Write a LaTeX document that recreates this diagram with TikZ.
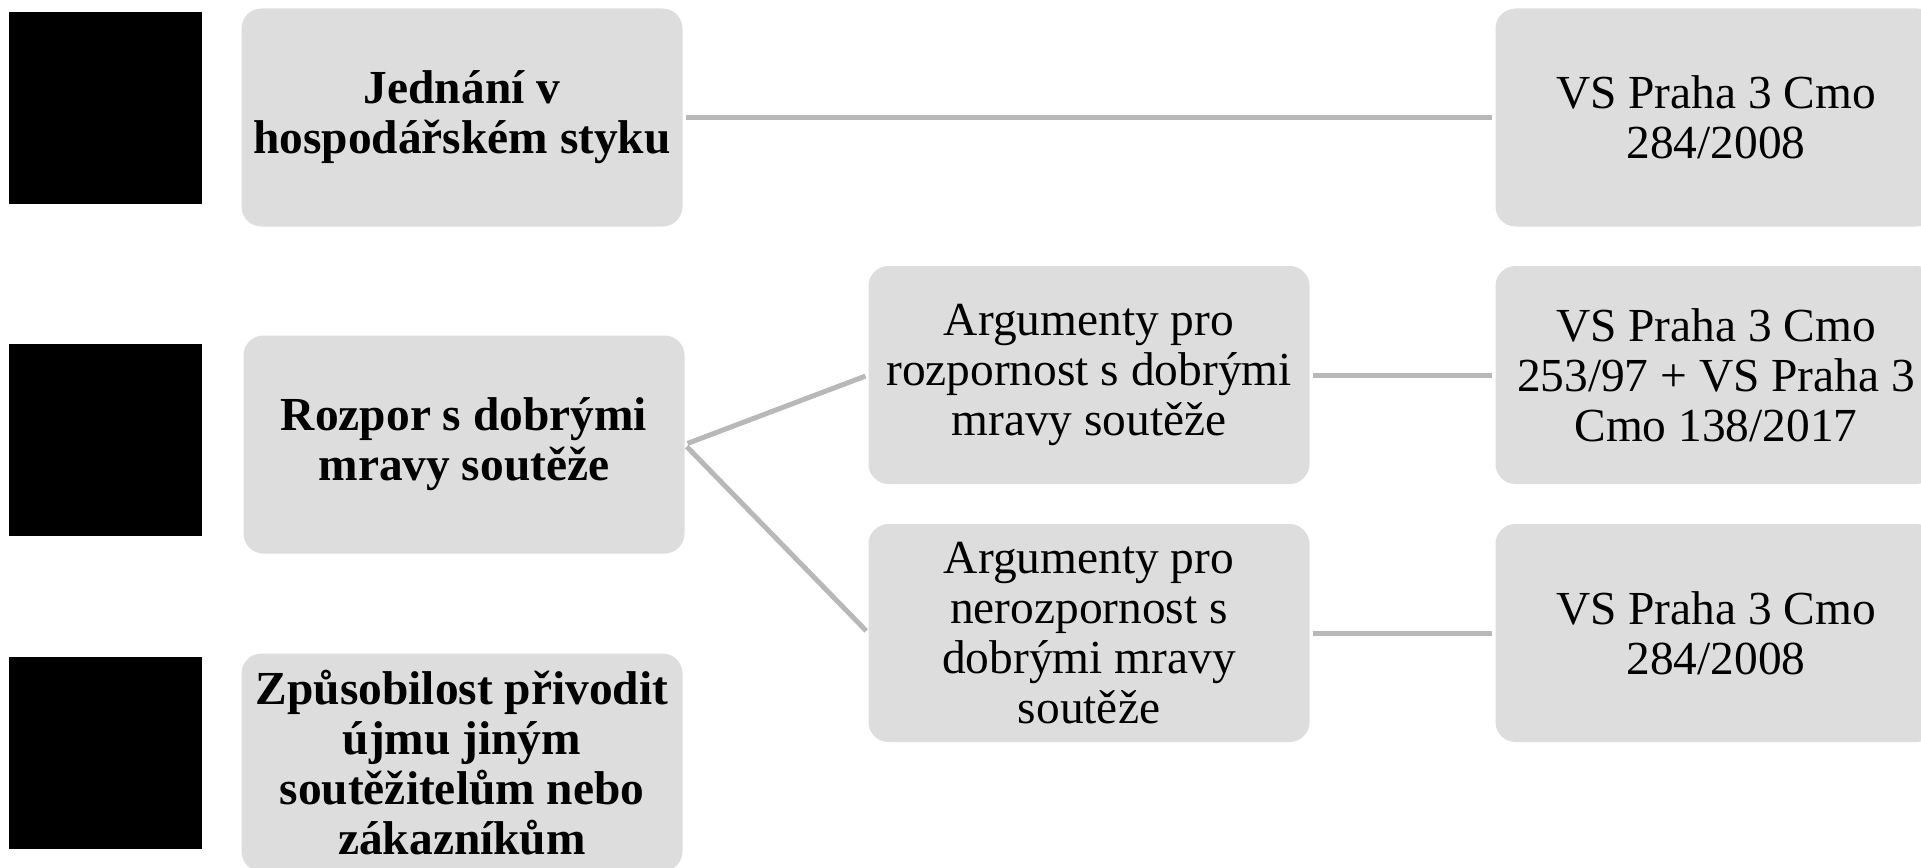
\documentclass[tikz,border=0pt]{standalone}
\usepackage{fontspec}
\setmainfont{Liberation Serif}
\definecolor{boxgray}{HTML}{DDDDDD}
\definecolor{linegray}{HTML}{B8B8B8}
\tikzset{
  pic box/.style={fill=boxgray, draw=none, rounded corners=20pt, minimum width=441pt, minimum height=218pt, inner sep=0pt, align=center, font=\fontsize{47.4pt}{50pt}\selectfont},
  boldbox/.style={pic box, font=\fontsize{47.4pt}{50pt}\selectfont\bfseries},
  blackbox/.style={fill=black, draw=none, minimum width=193pt, minimum height=192pt, inner sep=0pt},
  conn/.style={draw=linegray, line width=5pt, shorten >=3pt, shorten <=3pt}
}
\begin{document}
\begin{tikzpicture}[x=1pt, y=-1pt]
\useasboundingbox (0,0) rectangle (1921,867);
\clip (0,0) rectangle (1921,867);
% black squares
\node[blackbox] (k1) at (105.5,108) {};
\node[blackbox] (k2) at (105.5,439.5) {};
\node[blackbox] (k3) at (105.5,753) {};
% left column
\node[boldbox] (b1) at (462,117.5) {Jednání v\\hospodářském styku};
\node[boldbox] (b2) at (464,444.5) {Rozpor s dobrými\\mravy soutěže};
\node[boldbox] (b3) at (462,762.5) {Způsobilost přivodit\\újmu jiným\\soutěžitelům nebo\\zákazníkům};
% middle column
\node[pic box] (m1) at (1089,375) {Argumenty pro\\rozpornost s dobrými\\mravy soutěže};
\node[pic box] (m2) at (1089,633) {Argumenty pro\\nerozpornost s\\dobrými mravy\\soutěže};
% right column
\node[pic box] (r1) at (1716,117.5) {VS Praha 3 Cmo\\284/2008};
\node[pic box] (r2) at (1716,375) {VS Praha 3 Cmo\\253/97 + VS Praha 3\\Cmo 138/2017};
\node[pic box] (r3) at (1716,633) {VS Praha 3 Cmo\\284/2008};
% connectors
\draw[conn] (b1.east) -- (r1.west);
\draw[conn] (b2.east) -- (m1.west);
\draw[conn] (b2.east) -- (m2.west);
\draw[conn] (m1.east) -- (r2.west);
\draw[conn] (m2.east) -- (r3.west);
\end{tikzpicture}
\end{document}
